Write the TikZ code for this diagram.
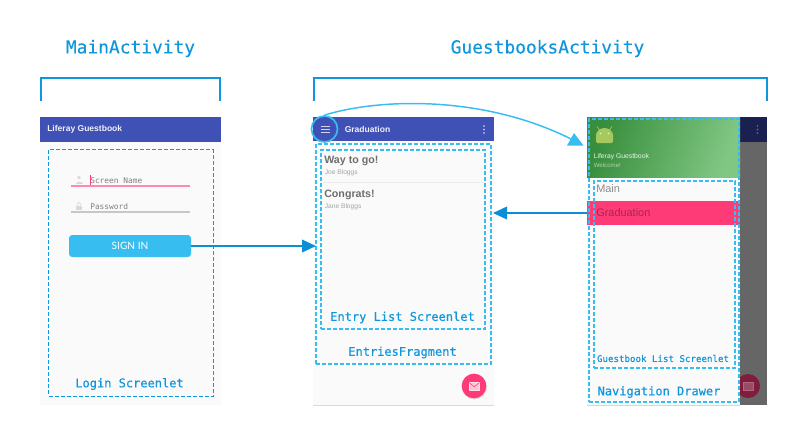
\documentclass[tikz,border=0pt]{standalone}
\usepackage{fontspec}
\setmainfont{Liberation Sans}
\setmonofont[FakeBold=0.25]{DejaVu Sans Mono}
\newfontfamily\hintfont{DejaVu Sans Mono}
\newfontfamily\latofont{Lato}
\usetikzlibrary{arrows.meta,shadows}
\definecolor{labelblue}{HTML}{0F96DC}
\definecolor{arrowblue}{HTML}{0A8FD6}
\definecolor{lightblue}{HTML}{38BDF0}
\definecolor{barblue}{HTML}{3F51B5}
\definecolor{pagebg}{HTML}{FAFAFA}
\definecolor{fabpink}{HTML}{FF3B77}
\definecolor{dimgray}{HTML}{666666}
\definecolor{dimbar}{HTML}{1A2150}
\definecolor{titlegray}{HTML}{6E6E6E}
\definecolor{subgray}{HTML}{A5A5A5}
\definecolor{greendark}{HTML}{388E3C}
\definecolor{greenlight}{HTML}{81C784}
\definecolor{droid}{HTML}{A5C95F}
\tikzset{
  x=0.75pt,y=-0.75pt,
  wh/.style 2 args={minimum width=#1*0.75pt,minimum height=#2*0.75pt,inner sep=0pt,outer sep=0pt,anchor=north west},
  screen/.style={fill=pagebg,draw=none},
  appbar/.style={fill=barblue,draw=none},
  dashbox/.style={draw=lightblue,line width=0.8pt,dash pattern=on 3pt off 1.5pt},
  dashboxdark/.style={draw=labelblue,line width=0.65pt,dash pattern=on 3pt off 1.5pt},
  bracket/.style={draw=labelblue,line width=1.5pt},
  flow/.style={draw=arrowblue,line width=1.2pt,-{Triangle[length=10.5pt,width=9.5pt]}},
  curveline/.style={draw=lightblue,line width=1.1pt},
  title/.style={font=\ttfamily\fontsize{13.4}{15}\selectfont,text=labelblue,inner sep=0pt},
  caption/.style={font=\ttfamily\fontsize{9}{11}\selectfont,text=labelblue,inner sep=0pt},
  smallcaption/.style={font=\ttfamily\fontsize{6.85}{8}\selectfont,text=labelblue,inner sep=0pt},
  bartext/.style={font=\bfseries\fontsize{6.4}{8}\selectfont,text=white!92!barblue,inner sep=0pt,anchor=west},
  hint/.style={font=\hintfont\fontsize{5.9}{7}\selectfont,text=black!50,inner sep=0pt,anchor=west},
  itemtitle/.style={font=\bfseries\fontsize{8}{10}\selectfont,text=titlegray,inner sep=0pt,anchor=west},
  itemsub/.style={font=\fontsize{5}{6}\selectfont,text=subgray,inner sep=0pt,anchor=west},
  drawertext/.style={font=\fontsize{8.2}{10}\selectfont,inner sep=0pt,anchor=west},
}
\begin{document}
\begin{tikzpicture}
\useasboundingbox (0,0) rectangle (806,443);
% titles and brackets
\node[title] (tmain) at (130.5,48.5) {MainActivity};
\node[title] (tguest) at (547.5,48.5) {GuestbooksActivity};
\draw[bracket] (41,101) -- (41,78) -- (220,78) -- (220,101);
\draw[bracket] (313.5,101) -- (313.5,78) -- (766.5,78) -- (766.5,101);

% screen 1
\node[wh={181}{288},screen] (s1) at (40,117) {};
\node[wh={181}{25},appbar] (bar1) at (40,117) {};
\node[bartext] (bar1t) at (47,129.5) {Liferay Guestbook};
\draw[fabpink!60,line width=0.8pt] (71,186) -- (190,186);
\draw[black!22,line width=0.8pt] (71,212) -- (190,212);
\draw[fabpink,line width=0.6pt] (90.5,175) -- (90.5,185);
\node[hint] (sn) at (90,180.5) {Screen Name};
\node[hint] (pw) at (90,206.5) {Password};
% user icon
\fill[black!15] (79,177.5) circle (1.9);
\fill[black!15] (75.5,184) .. controls (75.5,180.5) and (82.5,180.5) .. (82.5,184) -- cycle;
% lock icon
\fill[black!15] (76,205.5) rectangle (82,210);
\draw[black!15,line width=0.5pt] (77.3,205.5) -- (77.3,204) arc (180:360:1.7) -- (80.7,205.5);
\node[wh={122}{22},fill=lightblue,rounded corners=2.4pt] (btn) at (69,235) {};
\node[font=\latofont\fontsize{7.6}{9}\selectfont,text=white,inner sep=0pt] (btnt) at (130,246) {SIGN IN};
\node[wh={164.5}{246.5},dashboxdark] (login) at (48.5,149.5) {};
\node[caption] (loginc) at (129.5,384) {Login Screenlet};

% screen 2
\node[wh={181}{288},screen] (s2) at (313,117) {};
\draw[black!15,line width=0.6pt] (313,405.5) -- (494,405.5);
\node[wh={181}{24},appbar] (bar2) at (313,117) {};
\node[bartext] (bar2t) at (344.5,129.5) {Graduation};
\foreach \yy in {126,129,132}{\draw[white!75!barblue,line width=0.75pt] (321,\yy) -- (329.5,\yy);}
\foreach \yy in {126,129.5,133}{\fill[white!85!barblue] (484,\yy) circle (0.95);}
\node[circle,draw=lightblue,line width=1.3pt,minimum size=19.5pt,inner sep=0pt] (menu) at (324.5,129) {};
\node[itemtitle] (i1) at (324,160.5) {Way to go!};
\node[itemsub] (i1s) at (324.5,173) {Joe Bloggs};
\draw[black!7,line width=0.5pt] (322,182) -- (485,182);
\node[itemtitle] (i2) at (324,194.5) {Congrats!};
\node[itemsub] (i2s) at (324.5,207) {Jane Bloggs};
\node[wh={175}{220},dashbox] (frag) at (316,144) {};
\node[wh={164}{179},dashbox] (elist) at (321,150) {};
\node[caption] (elistc) at (402.5,317.5) {Entry List Screenlet};
\node[caption] (fragc) at (402.5,352.5) {EntriesFragment};
\node[circle,fill=fabpink,minimum size=18.5pt,inner sep=0pt,drop shadow={shadow xshift=0.4pt,shadow yshift=-0.8pt,opacity=0.25}] (fab) at (474,386) {};
\draw[white!85!fabpink,fill=white!70!fabpink,line width=0.3pt] (469,382.5) rectangle (479.5,390);
\draw[fabpink,line width=0.4pt] (469,382.5) -- (474.2,386.8) -- (479.5,382.5);

% screen 3
\node[wh={180}{288},fill=dimgray] (s3) at (587,117) {};
\node[wh={27}{25},fill=dimbar] (bar3) at (740,117) {};
\foreach \yy in {126,129.5,133}{\fill[white!35!dimbar] (757.5,\yy) circle (0.95);}
\node[circle,fill=fabpink!50!black,minimum size=18pt,inner sep=0pt] (fab3) at (748,386) {};
\draw[white!45!fabpink!70!black,fill=white!35!fabpink!60!black,line width=0.3pt] (743,382.5) rectangle (753,390);
\node[wh={153}{288},screen] (drawer) at (587,117) {};
\draw[black!15,line width=0.6pt] (587,405.5) -- (740,405.5);
\node[wh={153}{60},left color=greendark,right color=greenlight,draw=none,shading angle=70] (hdr) at (587,117) {};
% android head
\fill[droid,rounded corners=1pt] (596,143) -- (596,136.5) arc (180:360:8.5) -- (613,143) -- cycle;
\draw[droid,line width=0.5pt] (599.5,130) -- (597,126.5) (609.5,130) -- (612,126.5);
\fill[white!75!droid] (600.5,133.5) circle (0.8) (608.5,133.5) circle (0.8);
\node[font=\fontsize{5.1}{6}\selectfont,text=white!90!greendark,inner sep=0pt,anchor=west] (hdr1) at (593.5,157) {Liferay Guestbook};
\node[font=\fontsize{4.6}{6}\selectfont,text=white!60!greendark,inner sep=0pt,anchor=west] (hdr2) at (593.5,165.5) {Welcome!};
\node[drawertext,text=black!45] (mainitem) at (596,188.5) {Main};
\node[wh={153}{24},fill=fabpink] (grad) at (587,201) {};
\node[drawertext,text=fabpink!65!black] (gradt) at (596,213) {Graduation};
\node[wh={150}{283},dashbox] (nav) at (589,119) {};
\node[wh={141}{187},dashbox] (glist) at (594,181) {};
\node[smallcaption] (glistc) at (663,358.5) {Guestbook List Screenlet};
\node[caption] (navc) at (659,392) {Navigation Drawer};
\coordinate (curveend) at (573,140);

% connectors
\draw[flow] (btn.east) -- (frag.west |- btn.east);
\draw[flow] (grad.west) -- ([xshift=1.5pt]frag.east |- grad.west);
\draw[curveline] (menu.north) .. controls (380,98) and (485,95) .. (curveend);
\fill[lightblue] (574,133) -- (567,145.5) -- (583.5,145.5) -- cycle;
\end{tikzpicture}
\end{document}
